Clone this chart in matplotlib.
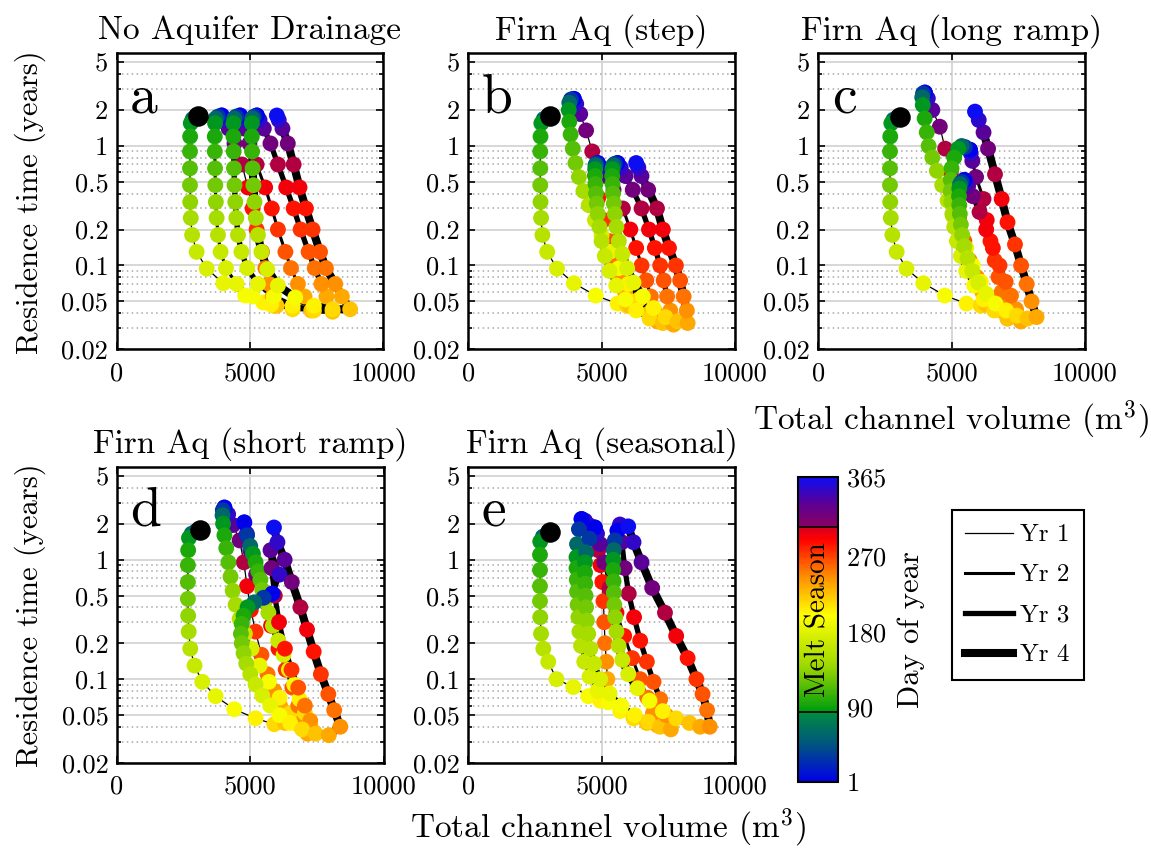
import matplotlib
matplotlib.use("Agg")
import matplotlib.pyplot as plt
from matplotlib.colors import LinearSegmentedColormap, Normalize
from matplotlib.lines import Line2D
from matplotlib.ticker import FixedLocator, NullFormatter

plt.rcParams['font.family'] = ['cmr10', 'DejaVu Serif']
plt.rcParams['mathtext.fontset'] = 'cm'
plt.rcParams['axes.formatter.use_mathtext'] = True

# day of year for every plotted point of a model year
days = [1, 30, 60, 85, 95, 105, 115, 125, 135, 145, 155, 165, 175, 185, 195,
        205, 215, 225, 235, 245, 255, 265, 275, 285, 295, 305, 320, 335, 350, 365]

titles = ['No Aquifer Drainage', 'Firn Aq (step)', 'Firn Aq (long ramp)',
          'Firn Aq (short ramp)', 'Firn Aq (seasonal)']
letters = ['a', 'b', 'c', 'd', 'e']

# initial state (black dot)
start_x = [3064, 3080, 3064, 3096, 3064]
start_y = [1.77, 1.77, 1.75, 1.77, 1.69]

# (a) no aquifer drainage: channel volume (m3) and residence time (yr), years 1-4
a_x = [[3064, 2950, 2850, 2780, 2755, 2750, 2750, 2750, 2760, 2780, 2830, 3000, 3380, 4000, 4820,
        5500, 5900, 6000, 5850, 5720, 5580, 5450, 5250, 5100, 4920, 4700, 4420, 4200, 4050, 3940],
       [3940, 3800, 3720, 3690, 3680, 3680, 3690, 3700, 3720, 3750, 3800, 3900, 4100, 4500, 5100,
        5800, 6600, 7300, 7050, 6800, 6540, 6330, 6050, 5820, 5570, 5250, 4980, 4780, 4690, 4630],
       [4630, 4480, 4410, 4380, 4380, 4390, 4400, 4420, 4450, 4490, 4550, 4680, 4900, 5300, 5900,
        6600, 7400, 8100, 7870, 7680, 7430, 7200, 6900, 6640, 6360, 6050, 5770, 5520, 5360, 5260],
       [5260, 5150, 5090, 5070, 5070, 5080, 5100, 5130, 5170, 5220, 5300, 5430, 5650, 6050, 6700,
        7400, 8100, 8760, 8450, 8200, 7850, 7630, 7350, 7100, 6860, 6640, 6420, 6220, 6080, 6010]]
a_y = [[1.77, 1.74, 1.68, 1.55, 1.2, 0.9, 0.65, 0.47, 0.34, 0.25, 0.18, 0.13, 0.094, 0.071, 0.056,
        0.049, 0.046, 0.046, 0.055, 0.07, 0.095, 0.13, 0.2, 0.3, 0.45, 0.7, 1.05, 1.4, 1.65, 1.8],
       [1.8, 1.76, 1.7, 1.55, 1.2, 0.9, 0.65, 0.47, 0.34, 0.25, 0.18, 0.13, 0.095, 0.07, 0.055,
        0.047, 0.043, 0.042, 0.055, 0.07, 0.095, 0.13, 0.2, 0.3, 0.45, 0.7, 1.05, 1.4, 1.65, 1.8],
       [1.8, 1.76, 1.7, 1.55, 1.2, 0.9, 0.65, 0.47, 0.34, 0.25, 0.18, 0.13, 0.095, 0.07, 0.055,
        0.046, 0.042, 0.041, 0.055, 0.07, 0.095, 0.13, 0.2, 0.3, 0.45, 0.7, 1.05, 1.4, 1.65, 1.8],
       [1.8, 1.76, 1.7, 1.55, 1.2, 0.9, 0.65, 0.47, 0.34, 0.25, 0.18, 0.13, 0.093, 0.068, 0.054,
        0.046, 0.043, 0.043, 0.055, 0.07, 0.095, 0.13, 0.2, 0.3, 0.45, 0.7, 1.05, 1.4, 1.65, 1.8]]

# (b) firn aquifer, step
b_x = [[3080, 2950, 2830, 2740, 2710, 2700, 2700, 2700, 2710, 2730, 2780, 2960, 3330, 3960, 4780,
        5600, 5950, 6050, 5880, 5690, 5450, 5280, 5080, 4880, 4760, 4650, 4420, 4200, 4050, 3960],
       [3960, 3850, 3790, 3770, 3790, 3840, 3920, 4020, 4150, 4320, 4520, 4750, 5000, 5300, 5650,
        6000, 6400, 6800, 7100, 6980, 6850, 6680, 6500, 6300, 6080, 5800, 5450, 5170, 4980, 4860],
       [4860, 4800, 4770, 4760, 4760, 4770, 4790, 4820, 4860, 4920, 5000, 5120, 5300, 5550, 5900,
        6300, 6800, 7300, 7700, 7580, 7460, 7330, 7200, 7000, 6780, 6500, 6170, 5900, 5720, 5600],
       [5600, 5500, 5440, 5410, 5400, 5410, 5430, 5460, 5500, 5560, 5650, 5780, 5960, 6200, 6550,
        6950, 7400, 7850, 8230, 8200, 8080, 7950, 7790, 7530, 7300, 7080, 6750, 6500, 6380, 6300]]
b_y = [[1.77, 1.74, 1.68, 1.55, 1.2, 0.9, 0.65, 0.47, 0.34, 0.25, 0.18, 0.13, 0.094, 0.071, 0.056,
        0.048, 0.046, 0.046, 0.06, 0.08, 0.11, 0.16, 0.24, 0.37, 0.57, 0.9, 1.35, 1.85, 2.25, 2.48],
       [2.48, 2.45, 2.3, 2.0, 1.6, 1.25, 0.95, 0.72, 0.55, 0.42, 0.32, 0.24, 0.18, 0.13, 0.095,
        0.07, 0.052, 0.04, 0.034, 0.042, 0.055, 0.075, 0.1, 0.14, 0.2, 0.3, 0.43, 0.56, 0.66, 0.72],
       [0.72, 0.71, 0.69, 0.64, 0.56, 0.48, 0.4, 0.33, 0.27, 0.21, 0.16, 0.12, 0.09, 0.068, 0.052,
        0.042, 0.036, 0.033, 0.032, 0.042, 0.055, 0.075, 0.1, 0.14, 0.2, 0.3, 0.43, 0.56, 0.66, 0.72],
       [0.72, 0.71, 0.69, 0.64, 0.56, 0.48, 0.4, 0.33, 0.27, 0.21, 0.16, 0.125, 0.095, 0.072, 0.055,
        0.044, 0.037, 0.034, 0.033, 0.042, 0.055, 0.075, 0.1, 0.14, 0.2, 0.3, 0.43, 0.56, 0.66, 0.72]]

# (c) firn aquifer, long ramp
c_x = [[3064, 2950, 2820, 2740, 2700, 2690, 2690, 2690, 2700, 2720, 2780, 2940, 3310, 3940, 4750,
        5560, 6100, 6300, 6150, 5950, 5680, 5480, 5280, 5130, 4970, 4760, 4560, 4280, 4110, 4000],
       [4000, 3930, 3900, 3920, 3990, 4070, 4140, 4280, 4450, 4650, 4850, 5050, 5300, 5550, 5800,
        6100, 6500, 6850, 7100, 7000, 6880, 6760, 6620, 6460, 6320, 6200, 5920, 5780, 5720, 5690],
       [5690, 5500, 5380, 5250, 5100, 5000, 4970, 4970, 4990, 5030, 5100, 5200, 5350, 5550, 5850,
        6200, 6600, 7100, 7600, 7420, 7230, 7030, 6800, 6550, 6300, 6050, 5800, 5620, 5530, 5480],
       [5480, 5380, 5320, 5290, 5280, 5290, 5310, 5350, 5400, 5480, 5600, 5780, 6000, 6300, 6650,
        7050, 7450, 7850, 8190, 8000, 7820, 7610, 7380, 7100, 6880, 6630, 6370, 6200, 6020, 5880]]
c_y = [[1.75, 1.72, 1.66, 1.55, 1.2, 0.9, 0.65, 0.47, 0.34, 0.25, 0.18, 0.13, 0.094, 0.071, 0.056,
        0.048, 0.046, 0.047, 0.06, 0.08, 0.11, 0.16, 0.25, 0.38, 0.6, 0.95, 1.45, 2.0, 2.5, 2.8],
       [2.8, 2.75, 2.55, 2.2, 1.7, 1.3, 1.0, 0.8, 0.62, 0.47, 0.35, 0.26, 0.19, 0.14, 0.1,
        0.073, 0.054, 0.042, 0.036, 0.045, 0.06, 0.08, 0.11, 0.16, 0.24, 0.36, 0.55, 0.75, 0.87, 0.93],
       [0.93, 0.98, 1.0, 0.95, 0.8, 0.65, 0.52, 0.42, 0.34, 0.27, 0.21, 0.16, 0.12, 0.09, 0.068,
        0.052, 0.042, 0.036, 0.034, 0.043, 0.056, 0.073, 0.1, 0.14, 0.2, 0.28, 0.38, 0.46, 0.5, 0.52],
       [0.52, 0.5, 0.48, 0.44, 0.38, 0.32, 0.27, 0.22, 0.18, 0.145, 0.115, 0.09, 0.072, 0.058, 0.048,
        0.042, 0.038, 0.036, 0.037, 0.05, 0.07, 0.1, 0.15, 0.23, 0.36, 0.58, 0.95, 1.3, 1.65, 1.94]]

# (d) firn aquifer, short ramp
d_x = [[3096, 2950, 2800, 2700, 2670, 2660, 2660, 2660, 2670, 2690, 2750, 2910, 3200, 3700, 4400,
        5200, 5900, 6300, 6120, 5900, 5650, 5420, 5200, 5020, 4880, 4760, 4600, 4350, 4170, 4030],
       [4030, 3970, 3960, 3980, 4030, 4100, 4180, 4260, 4340, 4450, 4600, 4800, 5050, 5350, 5700,
        6100, 6500, 6850, 7150, 7000, 6800, 6580, 6330, 6060, 5780, 5500, 5220, 5000, 4870, 4775],
       [4775, 4880, 5000, 5100, 5200, 5300, 5380, 5450, 5550, 5680, 5850, 6050, 6250, 6450, 6650,
        6850, 7050, 7250, 7400, 7250, 7050, 6800, 6550, 6300, 6080, 5920, 5800, 5760, 6100, 5830],
       [5830, 5500, 5150, 4900, 4750, 4680, 4650, 4680, 4750, 4850, 5000, 5200, 5450, 5750, 6100,
        6500, 6950, 7450, 7950, 8380, 8150, 7930, 7650, 7380, 7130, 6880, 6560, 6290, 6020, 5890]]
d_y = [[1.77, 1.72, 1.65, 1.52, 1.2, 0.9, 0.65, 0.47, 0.34, 0.25, 0.18, 0.13, 0.095, 0.072, 0.056,
        0.047, 0.042, 0.043, 0.06, 0.08, 0.11, 0.16, 0.25, 0.38, 0.6, 0.95, 1.45, 1.95, 2.4, 2.73],
       [2.73, 2.6, 2.35, 2.0, 1.6, 1.25, 0.95, 0.72, 0.55, 0.42, 0.32, 0.24, 0.18, 0.13, 0.095,
        0.07, 0.052, 0.041, 0.035, 0.045, 0.06, 0.085, 0.12, 0.18, 0.28, 0.45, 0.75, 1.2, 1.65, 2.05],
       [2.05, 1.6, 1.3, 1.12, 0.95, 0.8, 0.68, 0.56, 0.45, 0.36, 0.28, 0.21, 0.16, 0.12, 0.09,
        0.068, 0.052, 0.042, 0.036, 0.045, 0.06, 0.085, 0.12, 0.18, 0.3, 0.5, 0.85, 1.2, 0.75, 0.52],
       [0.52, 0.48, 0.44, 0.4, 0.34, 0.29, 0.24, 0.2, 0.165, 0.135, 0.11, 0.09, 0.073, 0.06, 0.05,
        0.043, 0.038, 0.035, 0.034, 0.04, 0.055, 0.075, 0.11, 0.17, 0.26, 0.4, 0.65, 1.0, 1.4, 1.86]]

# (e) firn aquifer, seasonal
e_x = [[3064, 2950, 2800, 2700, 2690, 2690, 2690, 2690, 2700, 2730, 2815, 3000, 3310, 3940, 4500,
        4950, 5250, 5280, 5220, 5180, 5130, 5100, 5070, 5030, 4960, 4880, 4720, 4520, 4380, 4250],
       [4250, 4150, 4080, 4060, 4060, 4070, 4080, 4100, 4130, 4170, 4230, 4350, 4550, 4850, 5250,
        5700, 6200, 6700, 7100, 6930, 6720, 6450, 6150, 5850, 5560, 5300, 5100, 4950, 4830, 4750],
       [4750, 4550, 4420, 4380, 4380, 4390, 4400, 4420, 4450, 4500, 4580, 4720, 4950, 5300, 5750,
        6250, 6750, 7200, 7600, 7420, 7200, 6950, 6700, 6450, 6220, 6020, 5870, 5760, 5690, 5600],
       [5600, 5500, 5460, 5440, 5440, 5450, 5460, 5480, 5510, 5560, 5640, 5780, 6000, 6350, 6800,
        7300, 7800, 8300, 8700, 9060, 8960, 8790, 8560, 8230, 7800, 7380, 6900, 6500, 6200, 6000]]
e_y = [[1.69, 1.64, 1.56, 1.42, 1.1, 0.82, 0.6, 0.45, 0.33, 0.24, 0.18, 0.14, 0.1, 0.086, 0.072,
        0.066, 0.065, 0.075, 0.1, 0.14, 0.2, 0.3, 0.45, 0.65, 0.9, 1.2, 1.6, 1.95, 2.12, 2.19],
       [2.19, 1.8, 1.35, 1.05, 0.85, 0.68, 0.54, 0.42, 0.33, 0.25, 0.19, 0.14, 0.105, 0.08, 0.064,
        0.054, 0.047, 0.043, 0.041, 0.052, 0.07, 0.1, 0.15, 0.23, 0.36, 0.58, 0.95, 1.35, 1.65, 1.86],
       [1.86, 1.5, 1.15, 0.95, 0.78, 0.63, 0.5, 0.4, 0.31, 0.24, 0.18, 0.135, 0.1, 0.076, 0.06,
        0.05, 0.044, 0.04, 0.038, 0.05, 0.068, 0.095, 0.14, 0.21, 0.33, 0.52, 0.85, 1.4, 1.97, 1.75],
       [1.75, 1.45, 1.2, 1.0, 0.82, 0.66, 0.53, 0.42, 0.33, 0.25, 0.19, 0.145, 0.11, 0.084, 0.066,
        0.054, 0.047, 0.043, 0.04, 0.04, 0.055, 0.075, 0.1, 0.15, 0.23, 0.36, 0.58, 0.95, 1.4, 1.9]]

panel_x = [a_x, b_x, c_x, d_x, e_x]
panel_y = [a_y, b_y, c_y, d_y, e_y]

year_lw = [0.9, 2.2, 3.8, 5.8]
year_labels = ['Yr 1', 'Yr 2', 'Yr 3', 'Yr 4']

ytick_vals = [0.02, 0.05, 0.1, 0.2, 0.5, 1, 2, 5]
ytick_text = ['0.02', '0.05', '0.1', '0.2', '0.5', '1', '2', '5']
yminor = [0.03, 0.04, 0.06, 0.07, 0.08, 0.09, 0.3, 0.4, 0.6, 0.7, 0.8, 0.9, 3, 4]
xtick_vals = [0, 5000, 10000]

# day-of-year colour scale: winter blue->green, melt green->yellow->red, autumn purple->blue
stops = [(1, (0.0, 0.0, 0.92)), (45, (0.0, 0.33, 0.5)), (84, (0.0, 0.55, 0.25)),
         (86, (0.0, 0.62, 0.05)), (140, (0.62, 0.85, 0.0)), (200, (1.0, 1.0, 0.0)),
         (247, (1.0, 0.55, 0.0)), (291, (1.0, 0.0, 0.0)), (304, (0.85, 0.0, 0.12)),
         (306, (0.55, 0.0, 0.38)), (335, (0.35, 0.0, 0.6)), (365, (0.05, 0.05, 0.95))]
cmap = LinearSegmentedColormap.from_list('doy', [((d - 1) / 364, c) for d, c in stops])
norm = Normalize(1, 365)

W, H = 1151, 848
fig = plt.figure(figsize=(W / 100, H / 100), dpi=100)

# axes boxes in pixels (left, top)
boxes = [(116.7, 53), (468.3, 53), (818.3, 53), (117, 466.7), (468.3, 466.7)]
aw, ah = 266.5, 296

for i in range(5):
    left, top = boxes[i]
    ax = fig.add_axes([left / W, 1 - (top + ah) / H, aw / W, ah / H])
    xs, ys = panel_x[i], panel_y[i]
    for k in range(4):
        ax.plot(xs[k], ys[k], color='k', lw=year_lw[k], zorder=2,
                solid_joinstyle='round', solid_capstyle='round')
    for k in range(4):
        ax.scatter(xs[k], ys[k], c=days, cmap=cmap, norm=norm, s=130,
                   edgecolors='none', zorder=3)
    ax.scatter([start_x[i]], [start_y[i]], s=190, color='k', zorder=4)

    ax.set_yscale('log')
    ax.set_xlim(0, 10000)
    ax.set_ylim(0.02, 6)
    ax.yaxis.set_major_locator(FixedLocator(ytick_vals))
    ax.set_yticklabels(ytick_text)
    ax.yaxis.set_minor_locator(FixedLocator(yminor))
    ax.yaxis.set_minor_formatter(NullFormatter())
    ax.set_xticks(xtick_vals)
    ax.set_xticklabels([str(v) for v in xtick_vals])
    ax.grid(True, which='major', color='#d4d4d4', lw=1.3, ls='-', zorder=0)
    ax.grid(True, which='minor', axis='y', color='#a8a8a8', lw=1.1, ls=(0, (1, 2.2)), zorder=0)
    ax.set_axisbelow(True)
    ax.tick_params(which='both', direction='in', top=True, right=True,
                   labelsize=19, width=1.2, colors='k')
    ax.tick_params(which='major', length=5)
    ax.tick_params(which='minor', length=3)
    ax.tick_params(axis='x', pad=9)
    ax.tick_params(axis='y', pad=6)
    for sp in ax.spines.values():
        sp.set_linewidth(1.8)
    ax.set_title(titles[i], fontsize=24, pad=10)
    ax.text(0.05, 0.80, letters[i], transform=ax.transAxes, fontsize=40, va='baseline')

# axis labels
fig.text(30 / W, 1 - 202 / H, 'Residence time (years)', rotation=90,
         ha='center', va='center', fontsize=22)
fig.text(30 / W, 1 - 615 / H, 'Residence time (years)', rotation=90,
         ha='center', va='center', fontsize=22)
fig.text(951 / W, 1 - 420 / H, 'Total channel volume (m$^3$)', ha='center', va='center', fontsize=24)
fig.text(608 / W, 1 - 828 / H, 'Total channel volume (m$^3$)', ha='center', va='center', fontsize=24)

# colour bar
cax = fig.add_axes([798 / W, 1 - 782 / H, 40 / W, 305 / H])
sm = plt.cm.ScalarMappable(norm=norm, cmap=cmap)
cb = fig.colorbar(sm, cax=cax, ticks=[1, 90, 180, 270, 365])
cb.outline.set_linewidth(1.5)
cax.tick_params(labelsize=19, length=0, pad=6)
cax.axhline(85, color='k', lw=1.2)
cax.axhline(305, color='k', lw=1.2)
cax.text(0.5, 195, 'Melt Season', rotation=90, ha='center', va='center', fontsize=21,
         transform=cax.get_yaxis_transform())
cb.set_label('Day of year', fontsize=22, labelpad=8)

# line-width legend for model years
handles = [Line2D([], [], color='k', lw=w) for w in year_lw]
leg = fig.legend(handles, year_labels, loc='upper left',
                 bbox_to_anchor=(951.7 / W, 1 - 510 / H), fontsize=18, frameon=True,
                 fancybox=False, edgecolor='k', framealpha=1, handlelength=1.9,
                 labelspacing=0.7, borderpad=0.55, handletextpad=0.3, borderaxespad=0)
leg.get_frame().set_linewidth(1.5)

fig.savefig('out.png', dpi=100)
